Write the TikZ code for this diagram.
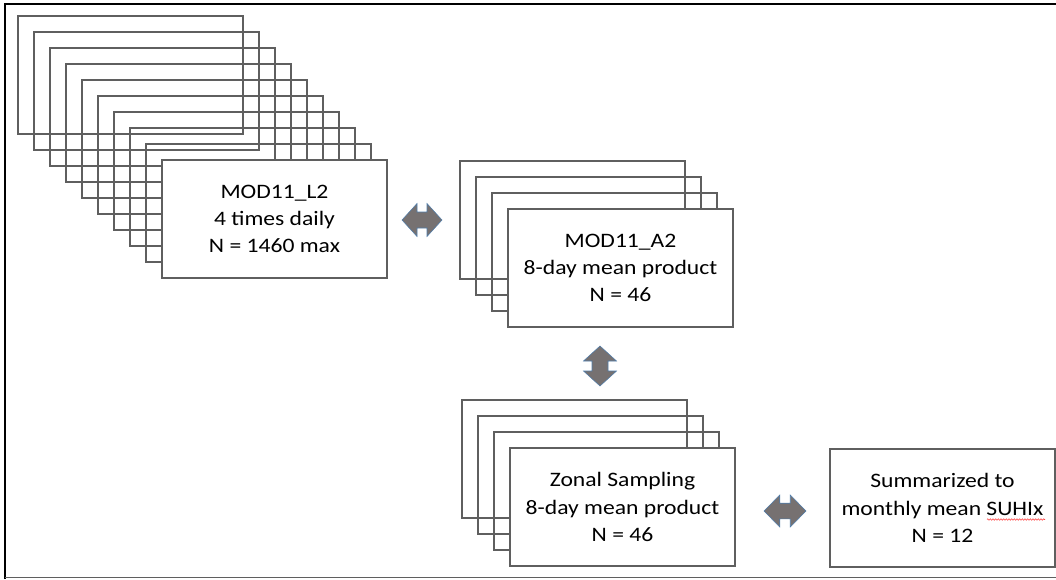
\documentclass[tikz,border=0pt]{standalone}
\usepackage{fontspec}
\newfontfamily\boxfont[FakeStretch=1.15]{Carlito}
\usetikzlibrary{decorations.pathmorphing}
\definecolor{boxline}{RGB}{95,95,95}
\definecolor{arrowfill}{RGB}{118,113,113}
\definecolor{arrowline}{RGB}{80,125,170}
\tikzset{
  stackbox/.style={draw=boxline, line width=1.35pt, minimum width=168.75pt, minimum height=88.5pt, inner sep=0pt, outer sep=0pt},
  frontbox/.style={stackbox, fill=white, font={\boxfont\fontsize{15.4pt}{20.5pt}\selectfont}, align=center},
  dblarrow/.pic={\filldraw[fill=arrowfill, draw=arrowline, line width=0.4pt]
    (-20,0) -- (-5,-16.5) -- (-5,-8) -- (5,-8) -- (5,-16.5) -- (20,0)
    -- (5,16.5) -- (5,8) -- (-5,8) -- (-5,16.5) -- cycle;}
}
\begin{document}
\begin{tikzpicture}[x=0.75pt,y=-0.75pt]
\useasboundingbox (0,0) rectangle (1056,579);
% outer frame
\draw[black, line width=1.5pt] (5,579) -- (5,4) -- (1056,4);
\draw[boxline, line width=0.9pt] (5,577.5) -- (1056,577.5);
% stack 1
\foreach \i in {0,...,8} {
  \node[stackbox] (s1b\i) at ({130.5+16*\i},{75+16*\i}) {};
}
\node[frontbox] (s1) at (274.5,219) {MOD11\_L2\\4 times daily\\N = 1460 max};
% stack 2
\foreach \i in {0,1,2} {
  \node[stackbox] (s2b\i) at ({572.5+16*\i},{220+16*\i}) {};
}
\node[frontbox] (s2) at (620.5,268) {MOD11\_A2\\8-day mean product\\N = 46};
% stack 3
\foreach \i in {0,1,2} {
  \node[stackbox] (s3b\i) at ({574.5+16*\i},{459+16*\i}) {};
}
\node[frontbox] (s3) at (622.5,507) {Zonal Sampling\\8-day mean product\\N = 46};
% box 4
\node[frontbox] (s4) at (942.5,508) {Summarized to\\monthly mean SUHIx\\N = 12};
\draw[red!75, line width=0.4pt, decorate, decoration={zigzag, segment length=2pt, amplitude=0.6pt}] (987,519.5) -- (1045,519.5);
% arrows
\pic (a1) at (422,220) {dblarrow};
\pic[rotate=90] (a2) at (600,366) {dblarrow};
\pic[xscale=1.05,yscale=0.97] (a3) at (785,511) {dblarrow};
\end{tikzpicture}
\end{document}
